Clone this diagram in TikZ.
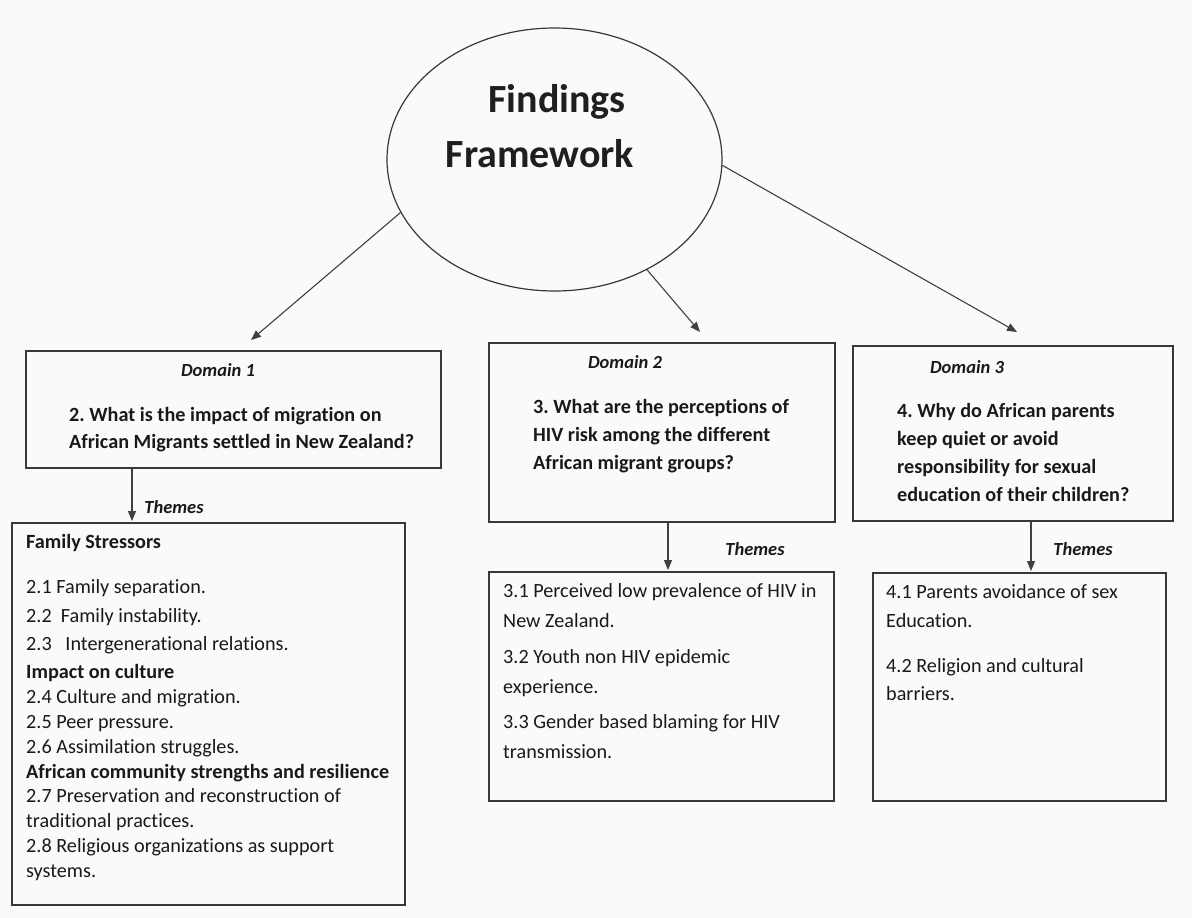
\documentclass[tikz,border=0pt]{standalone}
\usepackage{fontspec}
\setmainfont{Carlito}[Ligatures=NoCommon]
\usetikzlibrary{arrows.meta,shapes.geometric}
\definecolor{paper}{HTML}{F8FAFC}
\frenchspacing
\newcommand\boxat[5]{\node[box,minimum width={#4-#2},minimum height={#5-#3}] (#1) at ({(#2+#4)/2},{(#3+#5)/2}) {};}
\newcommand\tl[4]{\node[txt,anchor=base west] (#1) at (#2,#3) {#4};}
\begin{document}
\begin{tikzpicture}[x=1pt,y=-1pt,
  box/.style={draw=black!78,line width=1.2pt,rectangle,inner sep=0pt},
  txt/.style={inner sep=0pt,text=black!90,font=\fontsize{20.2}{24}\selectfont},
  dom/.style={inner sep=0pt,text=black!90,anchor=base,font=\fontsize{18.5}{21}\selectfont\bfseries\itshape},
  arr/.style={draw=black!75,line width=1.1pt,-{Triangle[length=10pt,width=8pt]}}]
\fill[paper] (0,0) rectangle (1192,918);
\useasboundingbox (0,0) rectangle (1192,918);
% central ellipse
\node[draw=black!78,line width=1.2pt,ellipse,minimum width=335pt,minimum height=263pt,inner sep=0pt] (ell) at (554.5,159.5) {};
\node[inner sep=0pt,anchor=base,text=black!88,font=\fontsize{40}{48}\selectfont\bfseries] (t1) at (557,112) {Findings};
\node[inner sep=0pt,anchor=base,text=black!88,font=\fontsize{40}{48}\selectfont\bfseries] (t2) at (540,167) {Framework};
% boxes
\boxat{b1}{26}{351}{441}{468}
\boxat{b1t}{12}{523}{405}{905}
\boxat{b2}{489}{343}{835}{522}
\boxat{b2t}{489}{572}{834}{801}
\boxat{b3}{853}{346}{1173}{521}
\boxat{b3t}{873}{573}{1166}{801}
% arrows from ellipse
\coordinate (e1) at (251,340);
\coordinate (e2) at (700,332);
\coordinate (e3) at (1017,332);
\draw[arr] (ell.199.6) -- (e1);
\draw[arr] (ell.-50.7) -- (e2);
\draw[arr] (ell.-2.9) -- (e3);
% arrows from domain boxes
\coordinate (f1) at (132,521);
\coordinate (f2) at (668,570);
\coordinate (f3) at (1031,571);
\draw[arr] (b1.south -| f1) -- (f1);
\draw[arr] (b2.south -| f2) -- (f2);
\draw[arr] (b3.south -| f3) -- (f3);
\node[dom] (th1) at (174,513) {Themes};
\node[dom] (th2) at (755,555) {Themes};
\node[dom] (th3) at (1083,555) {Themes};
% domain 1
\node[dom] (d1) at (218,376) {Domain 1};
\tl{q11}{69}{421}{\bfseries 2. What is the impact of migration on}
\tl{q12}{69}{448}{\bfseries African Migrants settled in New Zealand?}
% domain 2
\node[dom] (d2) at (625,368) {Domain 2};
\tl{q21}{533}{413}{\bfseries 3. What are the perceptions of}
\tl{q22}{533}{441}{\bfseries HIV risk among the different}
\tl{q23}{533}{469}{\bfseries African migrant groups?}
% domain 3
\node[dom] (d3) at (967,373) {Domain 3};
\tl{q31}{897}{417}{\bfseries 4. Why do African parents}
\tl{q32}{897}{445}{\bfseries keep quiet or avoid}
\tl{q33}{897}{473}{\bfseries responsibility for sexual}
\tl{q34}{897}{501}{\bfseries education of their children?}
% themes 1
\tl{a0}{26}{548}{\bfseries Family Stressors}
\tl{a1}{26}{593}{2.1 Family separation.}
\tl{a2}{26}{622}{2.2\ \ Family instability.}
\tl{a3}{26}{650}{2.3\ \ \ Intergenerational relations.}
\tl{a4}{26}{678}{\bfseries Impact on culture}
\tl{a5}{26}{703}{2.4 Culture and migration.}
\tl{a6}{26}{728}{2.5 Peer pressure.}
\tl{a7}{26}{753}{2.6 Assimilation struggles.}
\tl{a8}{26}{778}{\bfseries African community strengths and resilience}
\tl{a9}{26}{802}{2.7 Preservation and reconstruction of}
\tl{a10}{26}{827}{traditional practices.}
\tl{a11}{26}{852}{2.8 Religious organizations as support}
\tl{a12}{26}{877}{systems.}
% themes 2
\tl{c1}{503}{597}{3.1 Perceived low prevalence of HIV in}
\tl{c2}{503}{627}{New Zealand.}
\tl{c3}{503}{663}{3.2 Youth non HIV epidemic}
\tl{c4}{503}{693}{experience.}
\tl{c5}{503}{728}{3.3 Gender based blaming for HIV}
\tl{c6}{503}{758}{transmission.}
% themes 3
\tl{g1}{886}{598}{4.1 Parents avoidance of sex}
\tl{g2}{886}{627}{Education.}
\tl{g3}{886}{672}{4.2 Religion and cultural}
\tl{g4}{886}{700}{barriers.}
\end{tikzpicture}
\end{document}
